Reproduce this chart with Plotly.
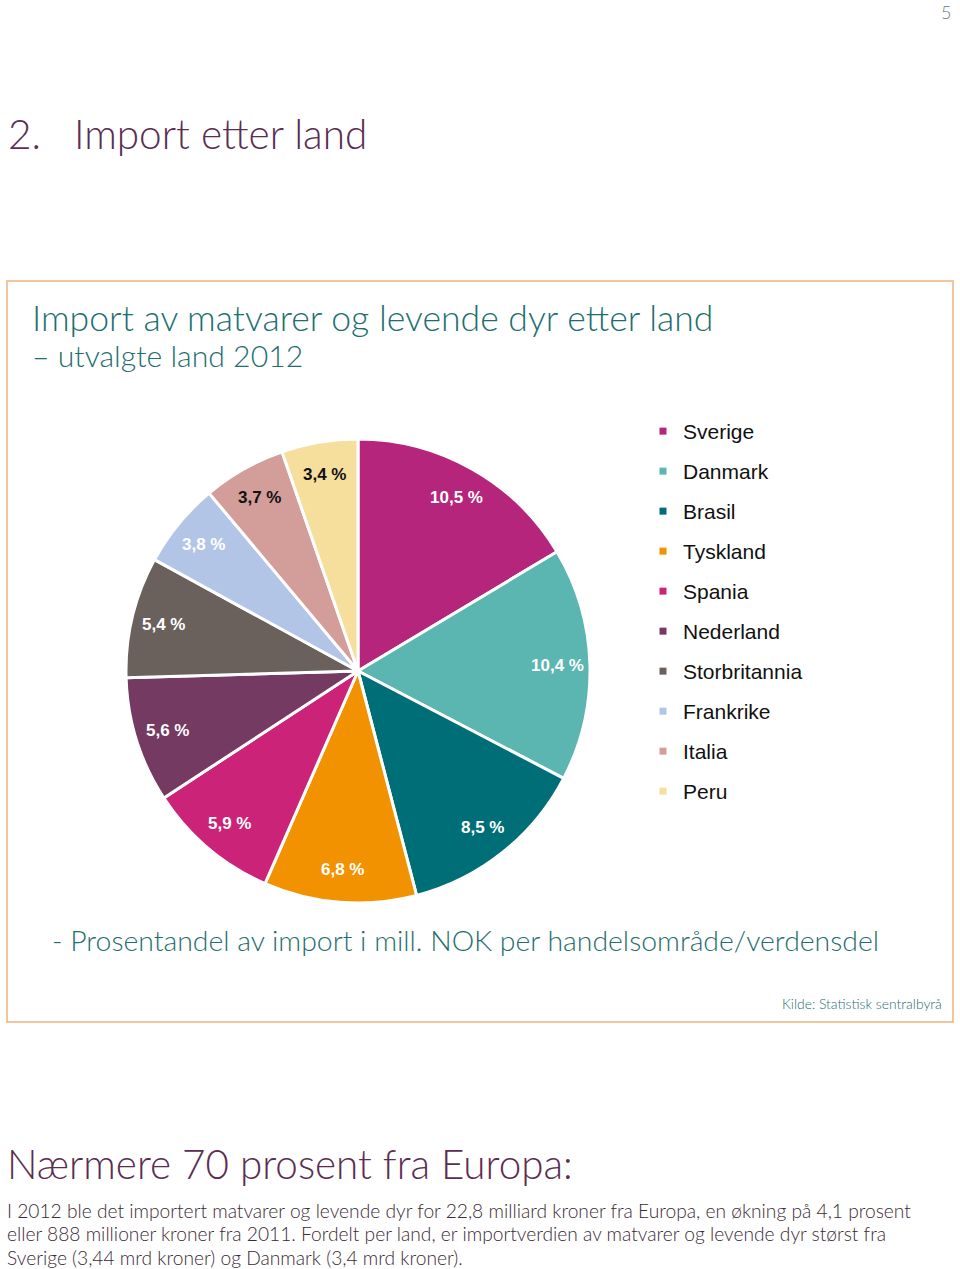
import numpy as np
import plotly.graph_objects as go

W, H = 960, 1269

countries = ["Sverige", "Danmark", "Brasil", "Tyskland", "Spania", "Nederland",
             "Storbritannia", "Frankrike", "Italia", "Peru"]
shares = [10.5, 10.4, 8.5, 6.8, 5.9, 5.6, 5.4, 3.8, 3.7, 3.4]
colors = ["#B5257B", "#5BB5B0", "#006E76", "#F39200", "#CB2377", "#743A62",
          "#6B615C", "#B3C5E6", "#D39D99", "#F6DE9C"]
label_colors = ["#FFFFFF"] * 8 + ["#111111", "#111111"]

labels_txt = [f"{v:.1f}".replace(".", ",") + " %" for v in shares]

def py(y):
    return 1 - y / H

def px(x):
    return x / W

fig = go.Figure()

cx, cy, r = 358, 671, 232
fig.add_trace(go.Pie(
    labels=countries, values=shares, text=labels_txt, textinfo="none",
    sort=False, direction="clockwise", rotation=0,
    marker=dict(colors=colors, line=dict(color="white", width=3)),
    domain=dict(x=[px(cx - r), px(cx + r)], y=[py(cy + r), py(cy - r)]),
    showlegend=False, hoverinfo="label+text",
))

for name, c in zip(countries, colors):
    fig.add_trace(go.Scatter(
        x=[None], y=[None], mode="markers", name=name, legendgroup=name,
        marker=dict(symbol="square", size=7, color=c),
    ))

teal = "#1E6E70"
purple = "#5A2D52"
font_main = "Lato"

annotations = [
    dict(text="5", x=px(953), y=py(12), xanchor="right", yanchor="middle",
         font=dict(family=font_main, size=18, color="#777777", weight=300)),
    dict(text="2.&nbsp;&nbsp;&nbsp;Import etter land", x=px(6), y=py(133), xanchor="left", yanchor="middle",
         font=dict(family=font_main, size=40.5, color=purple, weight=300)),
    dict(text="Import av matvarer og levende dyr etter land", x=px(30), y=py(318), xanchor="left", yanchor="middle",
         font=dict(family=font_main, size=35.6, color=teal, weight=300)),
    dict(text="– utvalgte land 2012", x=px(30), y=py(355), xanchor="left", yanchor="middle",
         font=dict(family=font_main, size=30.2, color=teal, weight=300)),
    dict(text="- Prosentandel av import i mill. NOK per handelsområde/verdensdel", x=px(50), y=py(940),
         xanchor="left", yanchor="middle",
         font=dict(family=font_main, size=28.4, color=teal, weight=300)),
    dict(text="Kilde: Statistisk sentralbyrå", x=px(944), y=py(1003), xanchor="right", yanchor="middle",
         font=dict(family=font_main, size=13.9, color=teal, weight=300)),
    dict(text="Nærmere 70 prosent fra Europa:", x=px(5), y=py(1163), xanchor="left", yanchor="middle",
         font=dict(family=font_main, size=40.4, color=purple, weight=300)),
]
para = ["I 2012 ble det importert matvarer og levende dyr for 22,8 milliard kroner fra Europa, en økning på 4,1 prosent",
        "eller 888 millioner kroner fra 2011. Fordelt per land, er importverdien av matvarer og levende dyr størst fra",
        "Sverige (3,44 mrd kroner) og Danmark (3,4 mrd kroner)."]
for i, line in enumerate(para):
    annotations.append(dict(text=line, x=px(5), y=py(1210 + 23.5 * i), xanchor="left", yanchor="middle",
                            font=dict(family=font_main, size=19.2, color="#3A2A36", weight=300)))

# slice labels placed near the outer end of each slice (angles from the data)
vals = np.array(shares)
mid = (np.cumsum(vals) - vals / 2) / vals.sum() * 2 * np.pi
lr = 0.86 * r
for t, ang, col in zip(labels_txt, mid, label_colors):
    annotations.append(dict(text=t, x=px(cx + lr * np.sin(ang)), y=py(cy - lr * np.cos(ang)),
                            xanchor="center", yanchor="middle",
                            font=dict(family="Liberation Sans", size=17, color=col, weight="bold")))

for a in annotations:
    a.update(xref="paper", yref="paper", showarrow=False)

fig.update_layout(
    width=W, height=H, margin=dict(l=0, r=0, t=0, b=0),
    paper_bgcolor="white", plot_bgcolor="white",
    xaxis=dict(visible=False), yaxis=dict(visible=False),
    annotations=annotations,
    shapes=[dict(type="rect", xref="paper", yref="paper",
                 x0=px(7), x1=px(953), y0=py(1022), y1=py(281),
                 line=dict(color="#F2B27A", width=1.5), fillcolor="rgba(0,0,0,0)")],
    legend=dict(x=px(643), y=py(411), xanchor="left", yanchor="top",
                font=dict(family="Liberation Sans", size=21, color="#111111"),
                tracegroupgap=9.7, bgcolor="rgba(0,0,0,0)", itemclick=False),
)

fig.write_html("out.html")
